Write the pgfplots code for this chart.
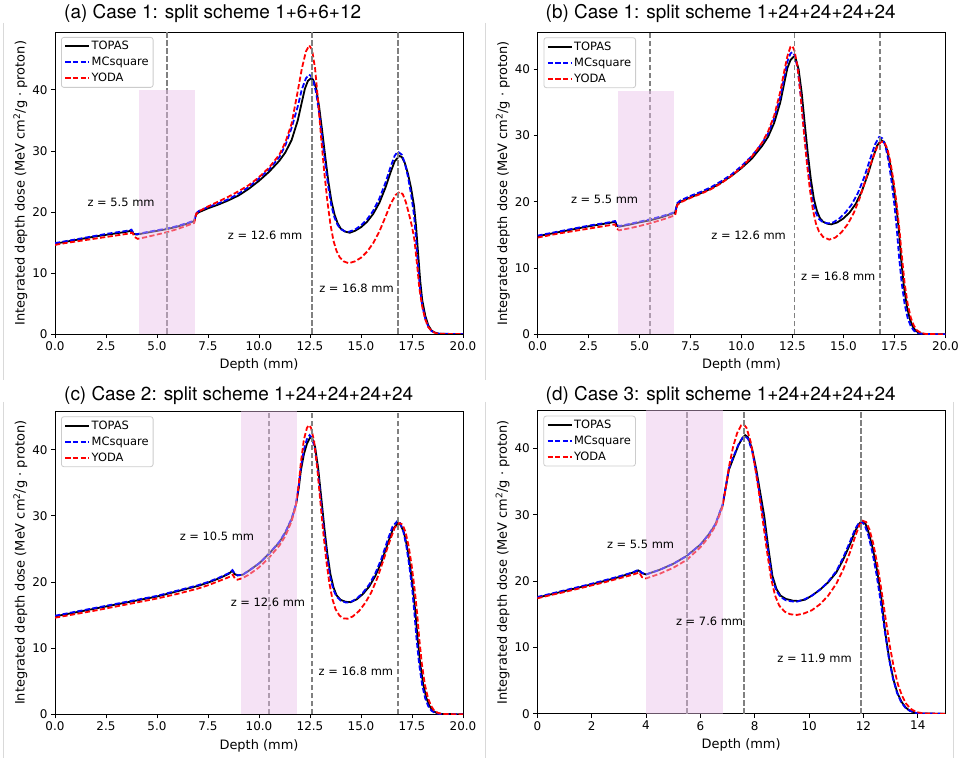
\documentclass[border=0pt]{standalone}
\usepackage{fontspec}
\setmainfont{DejaVu Sans}
\newfontfamily\helv{TeX Gyre Heros}
\usepackage{pgfplots}
\pgfplotsset{compat=1.18}
\definecolor{shadecol}{rgb}{0.911,0.744,0.911}

\tikzset{ann/.style={font=\fontsize{11.5}{13}\selectfont, inner sep=0pt}}
\pgfplotsset{
  panel/.style={
    scale only axis, width=408bp, height=302bp,
    ymin=0,
    axis line style={line width=0.9bp},
    every tick/.style={black, line width=0.9bp},
    tick align=outside, major tick length=4bp,
    xtick pos=left, ytick pos=left,
    ytick={0,10,20,30,40},
    tick label style={font=\fontsize{12}{14}\selectfont},
    /pgf/number format/assume math mode=true,
    label style={font=\fontsize{13}{15}\selectfont},
    xlabel={Depth (mm)},
    ylabel={Integrated depth dose (MeV cm\textsuperscript{2}/g · proton)},
    xlabel style={at={(axis description cs:0.5,-0.103)}, anchor=center},
    ylabel style={at={(axis description cs:-0.085,0.5)}, anchor=center},
    legend cell align=left,
    every axis legend/.append style={at={(0,1)}, anchor=north west, xshift=6bp, yshift=-5bp,
      draw=black!20, line width=0.8bp, rounded corners=2.5bp, fill=white,
      fill opacity=0.8, text opacity=1, draw opacity=1,
      inner xsep=3bp, inner ysep=2.5bp, row sep=3bp,
      nodes={inner sep=1.5bp, text depth=0.15em},
      /tikz/every even column/.append style={column sep=5bp}},
  },
  xpanel20/.style={xmin=0, xmax=20, xtick={0,2.5,5,7.5,10,12.5,15,17.5,20},
    xticklabel style={/pgf/number format/.cd, fixed, fixed zerofill, precision=1}},
  myleg/.style={legend image code/.code={\draw[##1] (0bp,0bp) -- (24bp,0bp);}},
  topas/.style={black, line width=1.8bp, myleg},
  mcs/.style={blue, line width=1.8bp, dash pattern=on 5.2bp off 2.4bp, myleg},
  yoda/.style={red, line width=1.8bp, dash pattern=on 5.2bp off 2.4bp, myleg},
  vline/.style={gray, line width=1.6bp, dash pattern=on 5.5bp off 2.5bp, forget plot},
  shadefill/.style={draw=none, fill=shadecol, fill opacity=0.45, forget plot},
}

\begin{document}
\begin{tikzpicture}
\path[use as bounding box] (0,0) rectangle (959bp,758bp);

\draw[black!15, line width=0.8bp] (3.5bp,735bp) -- (3.5bp,378bp);
\draw[black!15, line width=0.8bp] (485bp,735bp) -- (485bp,378bp);
\draw[black!15, line width=0.8bp] (3.5bp,356bp) -- (3.5bp,0bp);
\draw[black!15, line width=0.8bp] (485bp,356bp) -- (485bp,0bp);
\draw[black!15, line width=0.8bp] (953bp,356bp) -- (953bp,0bp);

% ---------------- (a) ----------------
\begin{axis}[panel, xpanel20, ymax=49.5, at={(55bp,424bp)}, anchor=south west]
\addplot[topas] coordinates {(0,14.8) (0.5,15.1) (1.0,15.4) (1.5,15.7) (2.0,16.0) (2.5,16.25) (3.0,16.5) (3.5,16.75) (3.75,16.95) (3.85,16.4) (4.0,16.3) (4.5,16.6) (5.0,16.9) (5.5,17.2) (6.0,17.6) (6.5,18.1) (6.82,18.5) (6.92,19.6) (7.05,19.95) (7.5,20.6) (8.0,21.2) (8.5,21.9) (9.0,22.7) (9.5,23.8) (10.0,25.1) (10.5,26.6) (11.0,28.4) (11.3,29.8) (11.6,31.8) (11.9,35.0) (12.1,38.0) (12.25,40.2) (12.4,41.5) (12.55,41.9) (12.65,41.7) (12.8,40.3) (12.95,37.2) (13.1,33.2) (13.25,29.0) (13.4,25.0) (13.55,21.8) (13.7,19.6) (13.85,18.2) (14.0,17.3) (14.2,16.8) (14.45,16.6) (14.7,16.9) (15.0,17.5) (15.3,18.4) (15.6,19.7) (15.9,21.5) (16.2,24.0) (16.45,26.5) (16.65,28.3) (16.88,29.2) (17.0,29.0) (17.15,28.0) (17.3,26.3) (17.45,24.0) (17.6,21.0) (17.7,17.6) (17.8,13.2) (17.9,8.8) (18.0,5.6) (18.15,3.0) (18.3,1.4) (18.45,0.6) (18.6,0.25) (18.8,0.06) (19.1,0.01) (20,0)};
\addlegendentry{\fontsize{11.5}{13}\selectfont TOPAS}
\addplot[mcs] coordinates {(0,14.9) (0.5,15.2) (1.0,15.5) (1.5,15.8) (2.0,16.1) (2.5,16.4) (3.0,16.65) (3.5,16.9) (3.75,17.1) (3.85,16.5) (4.0,16.35) (4.5,16.7) (5.0,17.0) (5.5,17.3) (6.0,17.7) (6.5,18.2) (6.82,18.6) (6.92,19.8) (7.05,20.15) (7.5,20.8) (8.0,21.4) (8.5,22.1) (9.0,23.0) (9.5,24.1) (10.0,25.5) (10.5,27.0) (11.0,29.0) (11.3,31.0) (11.6,33.8) (11.9,37.3) (12.1,40.1) (12.3,41.9) (12.45,42.5) (12.55,42.3) (12.65,41.6) (12.8,39.6) (12.95,36.2) (13.1,32.0) (13.25,27.8) (13.4,24.0) (13.55,21.0) (13.7,19.1) (13.85,17.9) (14.0,17.2) (14.2,16.85) (14.4,16.75) (14.7,17.1) (15.0,17.8) (15.3,18.8) (15.6,20.2) (15.9,22.2) (16.2,24.8) (16.45,27.4) (16.65,29.2) (16.8,29.9) (17.0,29.4) (17.15,28.0) (17.3,25.8) (17.45,23.0) (17.6,19.5) (17.7,15.4) (17.8,11.0) (17.9,7.3) (18.0,4.7) (18.15,2.5) (18.3,1.2) (18.45,0.5) (18.65,0.15) (18.85,0.03) (20,0)};
\addlegendentry{\fontsize{11.5}{13}\selectfont MCsquare}
\addplot[yoda] coordinates {(0,14.6) (0.5,14.9) (1.0,15.15) (1.5,15.4) (2.0,15.65) (2.5,15.9) (3.0,16.15) (3.5,16.4) (3.8,16.6) (3.9,15.9) (4.05,15.6) (4.5,15.9) (5.0,16.3) (5.5,16.7) (6.0,17.2) (6.5,17.8) (6.82,18.2) (6.92,19.7) (7.05,20.1) (7.5,20.9) (8.0,21.7) (8.5,22.5) (9.0,23.4) (9.5,24.4) (10.0,25.7) (10.5,27.3) (11.0,29.4) (11.3,31.5) (11.6,34.5) (11.9,39.8) (12.1,43.5) (12.3,46.3) (12.46,47.3) (12.6,46.6) (12.75,43.5) (12.9,38.0) (13.05,32.0) (13.2,26.5) (13.35,21.8) (13.5,18.0) (13.65,15.3) (13.8,13.6) (13.95,12.6) (14.15,11.9) (14.4,11.6) (14.7,11.9) (15.0,12.5) (15.3,13.5) (15.6,14.9) (15.9,16.8) (16.2,19.2) (16.45,21.3) (16.7,22.8) (16.9,23.3) (17.05,22.9) (17.2,21.6) (17.35,19.7) (17.5,17.6) (17.62,15.4) (17.75,11.3) (17.86,7.5) (18.0,4.5) (18.15,2.4) (18.3,1.1) (18.5,0.4) (18.7,0.1) (19.0,0.02) (20,0)};
\addlegendentry{\fontsize{11.5}{13}\selectfont YODA}
\addplot[vline] coordinates {(5.5,0) (5.5,60)};
\addplot[vline] coordinates {(12.6,0) (12.6,60)};
\addplot[vline] coordinates {(16.8,0) (16.8,60)};
\addplot[shadefill] coordinates {(4.1,40) (6.85,40)} \closedcycle;
\node[ann] at (axis cs:3.24,21.5) {z = 5.5 mm};
\node[ann] at (axis cs:10.3,16.1) {z = 12.6 mm};
\node[ann] at (axis cs:14.78,7.5) {z = 16.8 mm};
\end{axis}

% ---------------- (b) ----------------
\begin{axis}[panel, xpanel20, ymax=45.6, at={(537.5bp,423.7bp)}, anchor=south west]
\addplot[topas] coordinates {(0,14.8) (0.5,15.1) (1.0,15.4) (1.5,15.7) (2.0,16.0) (2.5,16.3) (3.0,16.55) (3.5,16.8) (3.8,17.0) (3.9,16.4) (4.0,16.25) (4.5,16.55) (5.0,16.9) (5.5,17.2) (6.0,17.6) (6.5,18.1) (6.75,18.4) (6.85,19.6) (7.0,20.0) (7.5,20.7) (8.0,21.3) (8.5,22.0) (9.0,22.9) (9.5,23.9) (10.0,25.1) (10.5,26.5) (11.0,28.4) (11.3,29.8) (11.6,31.9) (11.9,35.0) (12.1,38.0) (12.25,40.2) (12.4,41.4) (12.55,41.9) (12.65,41.7) (12.8,40.0) (12.95,36.5) (13.1,31.8) (13.25,27.3) (13.4,23.4) (13.55,20.4) (13.7,18.6) (13.85,17.5) (14.0,17.0) (14.2,16.7) (14.4,16.6) (14.7,16.9) (15.0,17.5) (15.3,18.4) (15.6,19.7) (15.9,21.6) (16.2,24.2) (16.45,26.7) (16.65,28.5) (16.85,29.3) (17.0,29.0) (17.15,27.7) (17.3,25.5) (17.45,22.5) (17.6,19.0) (17.72,15.5) (17.82,11.5) (17.95,7.5) (18.1,4.3) (18.25,2.3) (18.4,1.1) (18.55,0.5) (18.75,0.15) (19.0,0.03) (20,0)};
\addlegendentry{\fontsize{11.5}{13}\selectfont TOPAS}
\addplot[mcs] coordinates {(0,14.9) (0.5,15.2) (1.0,15.5) (1.5,15.8) (2.0,16.1) (2.5,16.4) (3.0,16.65) (3.5,16.9) (3.8,17.1) (3.9,16.5) (4.0,16.35) (4.5,16.65) (5.0,17.0) (5.5,17.35) (6.0,17.75) (6.5,18.2) (6.75,18.5) (6.85,19.8) (7.0,20.2) (7.5,20.9) (8.0,21.5) (8.5,22.2) (9.0,23.1) (9.5,24.1) (10.0,25.4) (10.5,26.9) (11.0,28.8) (11.3,30.3) (11.6,32.6) (11.9,35.8) (12.1,38.9) (12.25,41.2) (12.4,42.4) (12.5,42.6) (12.6,42.2) (12.75,40.2) (12.9,36.2) (13.05,31.4) (13.2,26.8) (13.35,22.9) (13.5,20.0) (13.65,18.3) (13.8,17.4) (14.0,16.9) (14.25,16.75) (14.5,16.9) (14.8,17.5) (15.1,18.4) (15.4,19.6) (15.7,21.3) (16.0,23.6) (16.3,26.4) (16.55,28.7) (16.75,29.8) (16.9,29.6) (17.05,28.5) (17.2,26.3) (17.35,23.2) (17.5,19.4) (17.62,15.6) (17.72,11.8) (17.85,7.8) (18.0,4.5) (18.15,2.4) (18.3,1.2) (18.45,0.55) (18.65,0.17) (18.9,0.03) (20,0)};
\addlegendentry{\fontsize{11.5}{13}\selectfont MCsquare}
\addplot[yoda] coordinates {(0,14.6) (0.5,14.9) (1.0,15.2) (1.5,15.45) (2.0,15.7) (2.5,15.95) (3.0,16.2) (3.5,16.45) (3.8,16.6) (3.9,15.95) (4.0,15.7) (4.5,16.0) (5.0,16.35) (5.5,16.75) (6.0,17.2) (6.5,17.7) (6.75,18.0) (6.85,19.5) (7.0,19.9) (7.5,20.6) (8.0,21.2) (8.5,21.9) (9.0,22.8) (9.5,23.9) (10.0,25.2) (10.5,26.8) (11.0,28.9) (11.3,30.6) (11.6,33.0) (11.9,36.6) (12.1,39.8) (12.25,42.0) (12.4,43.4) (12.5,43.5) (12.6,42.8) (12.75,40.3) (12.9,36.0) (13.05,30.8) (13.2,26.0) (13.35,21.9) (13.5,18.8) (13.65,16.7) (13.8,15.5) (14.0,14.7) (14.3,14.3) (14.6,14.6) (14.9,15.4) (15.2,16.6) (15.5,18.3) (15.8,20.6) (16.1,23.5) (16.4,26.3) (16.65,28.3) (16.85,29.1) (17.0,29.0) (17.15,28.0) (17.3,26.0) (17.45,23.2) (17.6,19.8) (17.75,15.5) (17.87,11.5) (18.0,7.6) (18.15,4.5) (18.3,2.5) (18.45,1.3) (18.6,0.6) (18.8,0.2) (19.05,0.04) (20,0)};
\addlegendentry{\fontsize{11.5}{13}\selectfont YODA}
\addplot[vline] coordinates {(5.5,0) (5.5,60)};
\addplot[vline] coordinates {(12.6,0) (12.6,60)};
\addplot[vline] coordinates {(16.8,0) (16.8,60)};
\addplot[shadefill] coordinates {(3.95,36.7) (6.7,36.7)} \closedcycle;
\node[ann] at (axis cs:3.29,20.4) {z = 5.5 mm};
\node[ann] at (axis cs:10.35,14.9) {z = 12.6 mm};
\node[ann] at (axis cs:14.74,8.7) {z = 16.8 mm};
\end{axis}

% ---------------- (c) ----------------
\begin{axis}[panel, xpanel20, ymax=45.8, height=303bp, at={(55bp,43.7bp)}, anchor=south west]
\addplot[topas] coordinates {(0,14.8) (1.0,15.4) (2.0,16.0) (3.0,16.6) (4.0,17.2) (5.0,17.8) (6.0,18.6) (7.0,19.4) (7.5,19.9) (8.0,20.5) (8.5,21.2) (8.7,21.7) (8.8,21.2) (8.95,21.0) (9.2,21.1) (9.5,21.7) (10.0,22.8) (10.5,24.3) (11.0,26.0) (11.3,27.5) (11.6,29.5) (11.8,31.5) (11.95,34.2) (12.05,36.8) (12.2,39.3) (12.35,40.9) (12.5,41.8) (12.6,41.8) (12.75,40.4) (12.9,37.2) (13.05,32.8) (13.2,28.3) (13.35,24.3) (13.5,21.2) (13.65,19.2) (13.8,18.0) (14.0,17.3) (14.25,17.0) (14.5,16.95) (14.8,17.4) (15.1,18.2) (15.4,19.3) (15.7,20.9) (16.0,23.0) (16.3,25.7) (16.55,27.9) (16.8,28.9) (16.95,28.6) (17.1,27.5) (17.25,25.5) (17.4,22.6) (17.55,18.9) (17.67,15.3) (17.77,11.6) (17.9,7.7) (18.05,4.5) (18.2,2.5) (18.35,1.3) (18.5,0.6) (18.7,0.2) (18.95,0.04) (20,0)};
\addlegendentry{\fontsize{11.5}{13}\selectfont TOPAS}
\addplot[mcs] coordinates {(0,14.9) (1.0,15.5) (2.0,16.1) (3.0,16.7) (4.0,17.3) (5.0,17.9) (6.0,18.7) (7.0,19.5) (7.5,20.0) (8.0,20.6) (8.5,21.3) (8.7,21.8) (8.8,21.3) (8.95,21.0) (9.2,21.1) (9.5,21.7) (10.0,22.8) (10.5,24.3) (11.0,26.1) (11.3,27.6) (11.6,29.6) (11.8,31.7) (11.95,34.6) (12.05,37.3) (12.2,40.0) (12.35,41.6) (12.48,42.2) (12.6,41.8) (12.75,40.0) (12.9,36.4) (13.05,31.8) (13.2,27.3) (13.35,23.5) (13.5,20.6) (13.65,18.8) (13.8,17.8) (14.0,17.2) (14.25,16.9) (14.45,16.9) (14.8,17.5) (15.1,18.4) (15.4,19.6) (15.7,21.3) (16.0,23.5) (16.3,26.3) (16.55,28.4) (16.78,29.2) (16.92,28.9) (17.07,27.7) (17.22,25.5) (17.37,22.4) (17.52,18.6) (17.62,15.2) (17.72,11.5) (17.85,7.6) (18.0,4.4) (18.15,2.4) (18.3,1.2) (18.45,0.55) (18.65,0.17) (18.9,0.03) (20,0)};
\addlegendentry{\fontsize{11.5}{13}\selectfont MCsquare}
\addplot[yoda] coordinates {(0,14.6) (1.0,15.15) (2.0,15.7) (3.0,16.3) (4.0,16.9) (5.0,17.5) (6.0,18.2) (7.0,19.0) (7.5,19.5) (8.0,20.1) (8.5,20.7) (8.72,21.1) (8.82,20.5) (8.95,20.35) (9.2,20.6) (9.5,21.1) (10.0,22.2) (10.5,23.7) (11.0,25.5) (11.3,27.0) (11.6,29.2) (11.8,31.4) (11.95,34.8) (12.05,38.0) (12.2,41.5) (12.35,43.3) (12.45,43.7) (12.55,43.3) (12.7,41.3) (12.85,37.4) (13.0,32.4) (13.15,27.5) (13.3,23.2) (13.45,19.8) (13.6,17.4) (13.75,15.9) (13.95,14.9) (14.15,14.5) (14.35,14.45) (14.6,14.8) (14.9,15.6) (15.2,16.8) (15.5,18.4) (15.8,20.6) (16.1,23.3) (16.4,26.1) (16.65,28.2) (16.88,28.9) (17.03,28.7) (17.18,27.6) (17.33,25.5) (17.48,22.6) (17.63,18.9) (17.75,15.3) (17.85,11.6) (17.98,7.7) (18.13,4.5) (18.28,2.5) (18.43,1.3) (18.58,0.6) (18.78,0.2) (19.03,0.04) (20,0)};
\addlegendentry{\fontsize{11.5}{13}\selectfont YODA}
\addplot[vline] coordinates {(10.5,0) (10.5,60)};
\addplot[vline] coordinates {(12.6,0) (12.6,60)};
\addplot[vline] coordinates {(16.8,0) (16.8,60)};
\addplot[shadefill] coordinates {(9.12,60) (11.85,60)} \closedcycle;
\node[ann] at (axis cs:7.94,26.9) {z = 10.5 mm};
\node[ann] at (axis cs:10.44,17.0) {z = 12.6 mm};
\node[ann] at (axis cs:14.75,6.45) {z = 16.8 mm};
\end{axis}

% ---------------- (d) ----------------
\begin{axis}[panel, xmin=0, xmax=15, xtick={0,2,4,6,8,10,12,14}, ymax=45.7, width=407.7bp, height=303bp, at={(537.3bp,44.3bp)}, anchor=south west]
\addplot[topas] coordinates {(0,17.5) (0.5,18.0) (1.0,18.5) (1.5,19.0) (2.0,19.5) (2.5,20.05) (3.0,20.6) (3.5,21.25) (3.72,21.6) (3.85,21.2) (4.0,21.0) (4.5,21.7) (5.0,22.6) (5.5,23.8) (6.0,25.5) (6.3,27.0) (6.55,28.5) (6.82,31.5) (6.93,34.0) (7.05,36.8) (7.2,38.4) (7.4,40.5) (7.55,41.6) (7.65,42.0) (7.75,41.7) (7.9,40.0) (8.05,37.0) (8.2,33.4) (8.35,29.8) (8.5,25.0) (8.65,20.8) (8.8,18.8) (8.95,17.8) (9.15,17.3) (9.4,17.05) (9.6,17.0) (9.85,17.2) (10.1,17.8) (10.4,18.7) (10.7,19.8) (11.0,21.3) (11.25,23.2) (11.5,25.5) (11.7,27.6) (11.85,28.7) (11.95,29.0) (12.08,28.6) (12.2,27.2) (12.35,24.8) (12.5,21.6) (12.65,17.7) (12.8,12.3) (12.95,8.2) (13.1,5.2) (13.25,3.1) (13.4,1.8) (13.55,0.95) (13.7,0.45) (13.9,0.14) (14.1,0.04) (14.4,0.01) (15,0)};
\addlegendentry{\fontsize{11.5}{13}\selectfont TOPAS}
\addplot[mcs] coordinates {(0,17.6) (0.5,18.1) (1.0,18.6) (1.5,19.1) (2.0,19.6) (2.5,20.15) (3.0,20.7) (3.5,21.3) (3.72,21.7) (3.85,21.25) (4.0,21.0) (4.5,21.7) (5.0,22.6) (5.5,23.8) (6.0,25.5) (6.3,27.0) (6.55,28.6) (6.82,31.6) (6.93,34.2) (7.05,37.0) (7.2,38.6) (7.4,40.6) (7.55,41.6) (7.65,41.8) (7.75,41.5) (7.9,39.7) (8.05,36.5) (8.2,32.6) (8.35,28.7) (8.5,24.2) (8.65,20.3) (8.8,18.5) (8.95,17.6) (9.15,17.1) (9.35,16.95) (9.55,16.9) (9.8,17.2) (10.1,17.8) (10.4,18.7) (10.7,19.9) (11.0,21.5) (11.25,23.5) (11.5,25.9) (11.7,27.9) (11.85,28.9) (11.95,28.9) (12.05,28.4) (12.18,26.9) (12.33,24.3) (12.48,21.0) (12.63,17.0) (12.78,12.6) (12.93,8.5) (13.08,5.4) (13.23,3.2) (13.38,1.8) (13.53,0.95) (13.7,0.45) (13.9,0.14) (14.1,0.04) (15,0)};
\addlegendentry{\fontsize{11.5}{13}\selectfont MCsquare}
\addplot[yoda] coordinates {(0,17.4) (0.5,17.9) (1.0,18.35) (1.5,18.85) (2.0,19.35) (2.5,19.85) (3.0,20.4) (3.5,20.95) (3.75,21.3) (3.85,20.6) (4.0,20.4) (4.5,21.1) (5.0,22.0) (5.5,23.2) (6.0,25.1) (6.3,26.6) (6.55,28.3) (6.8,31.0) (6.95,34.5) (7.05,37.2) (7.2,40.2) (7.35,42.3) (7.5,43.5) (7.6,43.6) (7.7,43.1) (7.85,41.0) (8.0,37.5) (8.15,33.5) (8.3,29.0) (8.45,24.5) (8.6,20.4) (8.75,17.8) (8.9,16.3) (9.1,15.4) (9.3,15.0) (9.55,14.9) (9.8,15.1) (10.1,15.6) (10.4,16.5) (10.7,17.8) (11.0,19.6) (11.25,21.7) (11.5,24.3) (11.7,26.8) (11.85,28.4) (11.97,29.1) (12.1,28.9) (12.22,27.8) (12.37,25.5) (12.52,22.3) (12.67,18.4) (12.82,14.2) (12.97,10.2) (13.12,6.9) (13.27,4.4) (13.42,2.7) (13.57,1.5) (13.75,0.7) (13.95,0.24) (14.2,0.05) (14.5,0.01) (15,0)};
\addlegendentry{\fontsize{11.5}{13}\selectfont YODA}
\addplot[vline] coordinates {(5.5,0) (5.5,60)};
\addplot[vline] coordinates {(7.6,0) (7.6,60)};
\addplot[vline] coordinates {(11.9,0) (11.9,60)};
\addplot[shadefill] coordinates {(4.0,60) (6.82,60)} \closedcycle;
\node[ann] at (axis cs:3.80,25.5) {z = 5.5 mm};
\node[ann] at (axis cs:6.34,14.0) {z = 7.6 mm};
\node[ann] at (axis cs:10.2,8.35) {z = 11.9 mm};
\end{axis}

\node[anchor=base west, inner sep=0pt, font=\helv\fontsize{19}{22}\selectfont] at (64bp,739bp) {(a) Case 1: split scheme 1+6+6+12};
\node[anchor=base west, inner sep=0pt, font=\helv\fontsize{19}{22}\selectfont] at (545.5bp,739bp) {(b) Case 1: split scheme 1+24+24+24+24};
\node[anchor=base west, inner sep=0pt, font=\helv\fontsize{19}{22}\selectfont] at (64bp,357.3bp) {(c) Case 2: split scheme 1+24+24+24+24};
\node[anchor=base west, inner sep=0pt, font=\helv\fontsize{19}{22}\selectfont] at (545.5bp,357.3bp) {(d) Case 3: split scheme 1+24+24+24+24};
\end{tikzpicture}
\end{document}
